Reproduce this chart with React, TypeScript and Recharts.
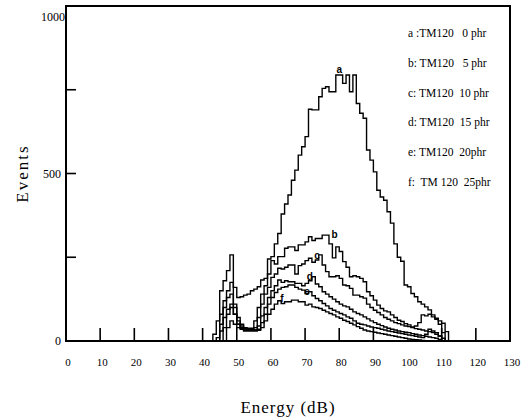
import React from 'react';
import { LineChart, Line, XAxis, YAxis, ReferenceArea, ReferenceDot } from 'recharts';

// energy bins (dB, bin start), 1 dB wide
const bins = Array.from({ length: 71 }, (_, i) => 42 + i);

// events per bin (bins 42..112)
const seriesA = [0, 20, 60, 150, 180, 210, 257, 160, 130,
  132, 137, 140, 150, 155, 162, 182, 187, 245, 252,
  290, 321, 379, 409, 436, 480, 510, 555, 580, 610,
  692, 690, 690, 729, 754, 759, 744, 744, 794, 794,
  769, 794, 744, 794, 709, 680, 665, 570, 540, 505,
  450, 430, 420, 386, 352, 290, 250, 238, 167, 162,
  142, 132, 117, 110, 102, 93, 78, 68, 60, 53,
  28, 0];
const seriesB = [0, 0, 10, 80, 120, 150, 175, 110, 70,
  50, 40, 38, 38, 60, 100, 140, 165, 200, 240,
  230, 252, 252, 277, 281, 281, 270, 287, 287, 296,
  311, 300, 306, 306, 316, 316, 290, 248, 281, 267,
  237, 220, 192, 195, 192, 187, 177, 147, 135, 122,
  107, 97, 90, 87, 78, 70, 62, 58, 52, 48,
  42, 45, 55, 78, 75, 80, 72, 65, 50, 25,
  0, 0];
const seriesC = [0, 0, 0, 50, 100, 130, 140, 100, 60,
  45, 38, 35, 35, 40, 70, 110, 140, 160, 190,
  200, 217, 215, 220, 227, 227, 200, 225, 230, 240,
  247, 235, 242, 257, 227, 207, 192, 192, 195, 187,
  167, 165, 157, 137, 137, 132, 128, 110, 100, 92,
  85, 78, 70, 65, 60, 55, 52, 48, 45, 43,
  40, 37, 35, 33, 30, 28, 25, 20, 15, 8,
  0, 0];
const seriesD = [0, 0, 0, 30, 70, 95, 110, 80, 50,
  40, 33, 33, 33, 33, 45, 75, 100, 130, 150,
  165, 182, 175, 180, 177, 177, 172, 172, 165, 172,
  180, 192, 170, 162, 147, 140, 132, 125, 117, 110,
  105, 102, 95, 87, 82, 78, 72, 66, 60, 55,
  50, 46, 42, 38, 35, 33, 30, 28, 26, 25,
  22, 20, 18, 16, 14, 12, 10, 8, 5, 0,
  0, 0];
const seriesE = [0, 0, 0, 0, 40, 80, 100, 80, 50,
  38, 33, 33, 33, 33, 35, 55, 80, 110, 130,
  145, 155, 160, 162, 167, 167, 160, 155, 152, 142,
  147, 135, 127, 120, 112, 105, 97, 92, 87, 82,
  78, 72, 68, 60, 53, 50, 48, 45, 42, 40,
  38, 35, 33, 30, 28, 26, 24, 22, 20, 18,
  16, 14, 12, 10, 20, 35, 30, 25, 15, 0,
  0, 0];
const seriesF = [0, 0, 0, 0, 0, 40, 60, 50, 40,
  35, 30, 30, 30, 30, 32, 40, 60, 80, 95,
  110, 120, 112, 117, 117, 122, 122, 117, 117, 107,
  110, 102, 100, 97, 92, 87, 82, 78, 72, 68,
  62, 58, 53, 48, 43, 38, 33, 30, 28, 26,
  24, 22, 20, 18, 16, 14, 12, 10, 8, 6,
  5, 4, 3, 2, 1, 0, 0, 0, 0, 0,
  0, 0];

const xTicks = [0, 10, 20, 30, 40, 50, 60, 70, 80, 90, 100, 110, 120, 130];
const xMarked = [10, 20, 30, 40, 50, 60, 70, 80, 90, 110, 120];
const yTicks = [0, 250, 500, 750, 1000];
const yLabelled = [0, 500, 1000];

const legendLines = [
  'a :TM120   0 phr',
  'b: TM120   5 phr',
  'c: TM120  10 phr',
  'd: TM120  15 phr',
  'e: TM120  20phr',
  'f:  TM 120  25phr',
];

// curve tags: [letter, energy, events]
const curveTags: [string, number, number][] = [
  ['a', 80, 812],
  ['b', 78.6, 318],
  ['c', 73.5, 256],
  ['d', 71.4, 194],
  ['e', 70.6, 147],
  ['f', 63.2, 127],
];

const rows = bins.map((x, i) => ({
  x,
  a: seriesA[i],
  b: seriesB[i],
  c: seriesC[i],
  d: seriesD[i],
  e: seriesE[i],
  f: seriesF[i],
}));

const serif = '"Liberation Serif", "DejaVu Serif", serif';

const XTick = (props: any) => {
  const { x, y, payload } = props;
  const v = payload.value;
  return (
    <g>
      {xMarked.includes(v) && <line x1={x} x2={x} y1={y} y2={y - 13} stroke="#000" strokeWidth={1.6} />}
      <text x={x + 2} y={y + 21} dy="0.35em" textAnchor="middle" fontSize={11} fontFamily={serif} fill="#000">
        {v}
      </text>
    </g>
  );
};

const YTick = (props: any) => {
  const { x, y, payload } = props;
  const v = payload.value;
  return (
    <g>
      {v > 0 && v < 1000 && <line x1={x} x2={x + 10} y1={y} y2={y} stroke="#000" strokeWidth={1.6} />}
      {yLabelled.includes(v) && (
        <text x={v === 1000 ? x - 1 : x - 5} y={v === 1000 ? y + 11 : y} dy="0.35em" textAnchor="end" fontSize={12} fontFamily={serif} fill="#000">
          {v}
        </text>
      )}
    </g>
  );
};

const series = ['a', 'b', 'c', 'd', 'e', 'f'];

export default function App() {
  return (
    <div style={{ position: 'absolute', left: 0, top: 0, width: 531, height: 419, background: '#fff' }}>
      <LineChart width={531} height={419} data={rows} margin={{ top: 6, right: 21, bottom: 0, left: 0 }}>
        <XAxis
          dataKey="x"
          type="number"
          domain={[0, 130]}
          ticks={xTicks}
          interval={0}
          height={78}
          tickSize={0}
          tickMargin={0}
          tickLine={false}
          axisLine={{ stroke: '#000', strokeWidth: 2 }}
          tick={XTick}
          label={{
            value: 'Energy (dB)',
            position: 'insideBottom',
            offset: 6,
            style: { fontFamily: serif, fontSize: 17, letterSpacing: 1, fill: '#000' },
          }}
        />
        <YAxis
          type="number"
          domain={[0, 1000]}
          ticks={yTicks}
          interval={0}
          width={66}
          tickSize={0}
          tickMargin={0}
          tickLine={false}
          axisLine={{ stroke: '#000', strokeWidth: 2 }}
          tick={YTick}
          label={{
            value: 'Events',
            angle: -90,
            position: 'insideLeft',
            offset: 22,
            style: { textAnchor: 'middle', fontFamily: serif, fontSize: 17, letterSpacing: 2, fill: '#000' },
          }}
        />
        <ReferenceArea x1={0} x2={130} y1={0} y2={1000} fill="none" stroke="#000" strokeWidth={2} />
        {series.map((k) => (
          <Line
            key={k}
            dataKey={k}
            type="stepAfter"
            stroke="#000"
            strokeWidth={1.4}
            dot={false}
            isAnimationActive={false}
          />
        ))}
        {curveTags.map(([t, x, y]) => (
          <ReferenceDot
            key={t}
            x={x}
            y={y}
            r={1}
            fill="none"
            stroke="none"
            label={{ value: t, position: 'center', fontSize: 10, fontWeight: 'bold', fontFamily: '"Liberation Sans", Arial, sans-serif', fill: '#000' }}
          />
        ))}
      </LineChart>
      {legendLines.map((s, i) => (
        <div
          key={s}
          style={{
            position: 'absolute',
            left: 408,
            top: 33 + i * 29.8 - 8,
            fontFamily: serif,
            fontSize: 11.5,
            whiteSpace: 'pre',
            lineHeight: '16px',
            color: '#000',
          }}
        >
          {s}
        </div>
      ))}
    </div>
  );
}
